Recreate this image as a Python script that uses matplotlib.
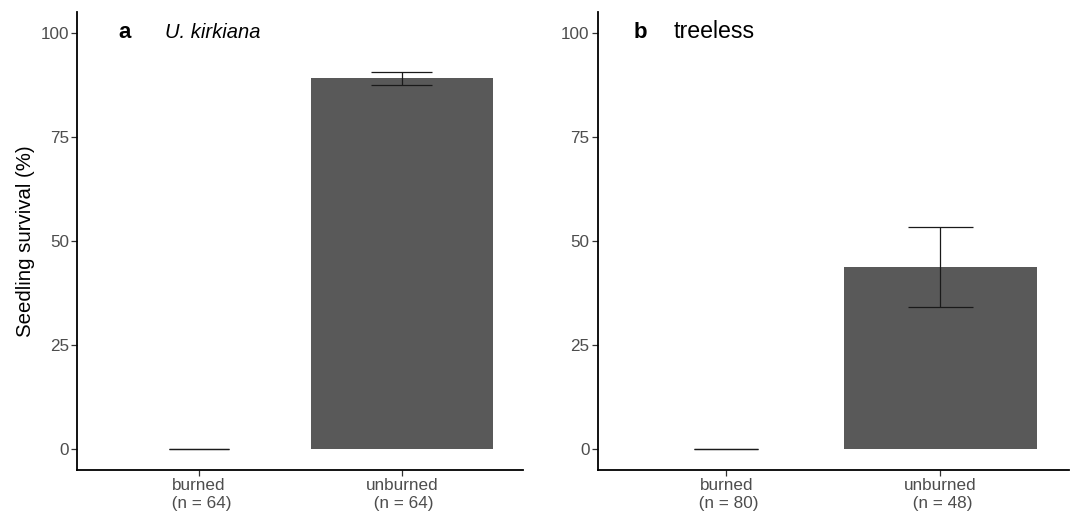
import matplotlib
matplotlib.use('Agg')
import matplotlib.pyplot as plt

plt.rcParams['font.family'] = ['Liberation Sans', 'DejaVu Sans']

# data
categories = ['burned', 'unburned']
kirkiana_n = [64, 64]
kirkiana_mean = [0.0, 89.1]
kirkiana_se = [0.0, 1.6]
treeless_n = [80, 48]
treeless_mean = [0.0, 43.75]
treeless_se = [0.0, 9.6]

panels = [
    ('a', 'U. kirkiana', 'italic', 14.5, kirkiana_n, kirkiana_mean, kirkiana_se,
     [0.0719, 0.0927, 0.414, 0.884], 0.091, 0.196),
    ('b', 'treeless', 'normal', 16.7, treeless_n, treeless_mean, treeless_se,
     [0.555, 0.0927, 0.4376, 0.884], 0.075, 0.160),
]

fig = plt.figure(figsize=(10.77, 5.18), dpi=100)

for letter, title, style, tsize, n, mean, se, rect, lx, tx in panels:
    ax = fig.add_axes(rect)
    x = list(range(1, len(categories) + 1))
    ax.bar(x, mean, width=0.9, color='#595959', zorder=2)

    # error bars (mean +/- se), cap width 0.3 in data units
    lo = [m - s for m, s in zip(mean, se)]
    hi = [m + s for m, s in zip(mean, se)]
    ax.vlines(x, lo, hi, color='#1a1a1a', lw=0.9, zorder=3)
    ax.hlines(lo, [i - 0.15 for i in x], [i + 0.15 for i in x], color='#1a1a1a', lw=0.9, zorder=3)
    ax.hlines(hi, [i - 0.15 for i in x], [i + 0.15 for i in x], color='#1a1a1a', lw=0.9, zorder=3)

    ax.set_xlim(0.4, 2.6)
    ax.set_ylim(-5, 105)
    ax.set_yticks([0, 25, 50, 75, 100])
    ax.set_xticks(x)
    ax.set_xticklabels([f'{c}\n (n = {k})' for c, k in zip(categories, n)])

    for side in ['top', 'right']:
        ax.spines[side].set_visible(False)
    for side in ['left', 'bottom']:
        ax.spines[side].set_linewidth(1.3)
        ax.spines[side].set_color('black')
    ax.tick_params(axis='both', length=4, width=0.9, color='#333333',
                   labelcolor='#4d4d4d', labelsize=12.3, pad=2)

    ax.text(lx, 0.944, letter, transform=ax.transAxes, fontsize=16,
            fontweight='bold', va='baseline', ha='left')
    ax.text(tx, 0.944, title, transform=ax.transAxes, fontsize=tsize,
            fontstyle=style, va='baseline', ha='left')

    if letter == 'a':
        ax.set_ylabel('Seedling survival (%)', fontsize=14.7, labelpad=4)

fig.savefig('out.png', dpi=100)
